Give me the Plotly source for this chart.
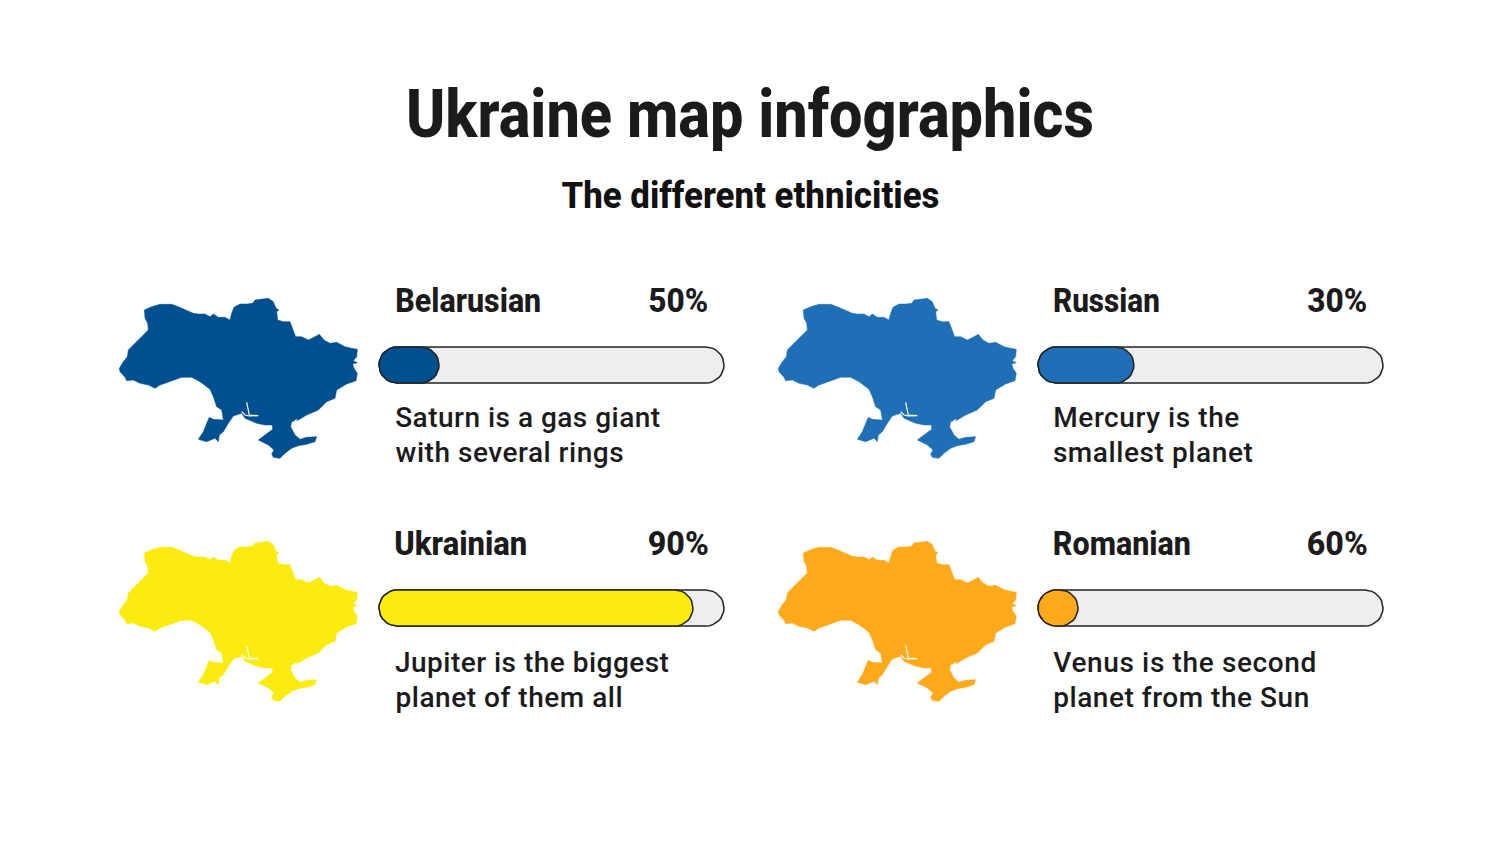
import json
import math
import plotly.graph_objects as go

groups = ['Belarusian', 'Russian', 'Ukrainian', 'Romanian']
labels = ['50%', '30%', '90%', '60%']
bar_fill = [17.4, 27.8, 91, 11.6]
colors = ['#004F91', '#1F6FB7', '#FBEB0F', '#FFA91B']
note_line1 = ['Saturn is a gas giant', 'Mercury is the', 'Jupiter is the biggest', 'Venus is the second']
note_line2 = ['with several rings', 'smallest planet', 'planet of them all', 'planet from the Sun']
title = 'Ukraine map infographics'
subtitle = 'The different ethnicities'

# outline, in the 840x570 box around the map
map_x = [133, 155, 180, 215, 235, 260, 280, 295, 315, 330, 340, 355, 375, 390, 395, 402, 420, 440, 458, 465,
         485, 505, 520, 528, 537, 530, 533, 550, 570, 580, 587, 605, 625, 645, 658, 672, 690, 710, 735, 755,
         772, 770, 760, 772, 758, 762, 772, 768, 740, 710, 705, 680, 655, 620, 595, 575, 572, 585, 600, 620,
         650, 645, 620, 595, 575, 555, 540, 520, 515, 522, 505, 475, 495, 518, 517, 495, 470, 450, 435, 425,
         400, 385, 370, 358, 355, 345, 320, 295, 310, 318, 328, 340, 370, 365, 350, 340, 330, 300, 275, 245,
         225, 200, 180, 165, 145, 120, 100, 80, 75, 60, 58, 70, 82, 85, 105, 125, 145, 143, 135, 133]
map_y = [90, 80, 73, 73, 80, 90, 100, 102, 102, 110, 102, 112, 112, 120, 100, 82, 72, 72, 70, 60,
         58, 55, 65, 85, 90, 95, 120, 125, 125, 155, 170, 170, 180, 170, 163, 180, 190, 187, 200, 205,
         208, 230, 242, 248, 252, 265, 280, 302, 312, 330, 355, 365, 390, 405, 420, 425, 440, 465, 478, 472,
         470, 485, 493, 497, 505, 520, 535, 532, 522, 510, 495, 480, 465, 448, 435, 435, 430, 422, 415, 400,
         408, 430, 455, 465, 485, 475, 485, 478, 455, 435, 412, 418, 420, 390, 380, 350, 328, 305, 292, 292,
         300, 308, 315, 325, 315, 310, 300, 302, 292, 275, 265, 245, 230, 210, 190, 170, 150, 130, 115, 90]
# white inlets near the Dnipro mouth and the Crimean neck
inlet_x = [440, 448, 475, 448, 435, 425, None, 578, 590]
inlet_y = [367, 405, 407, 408, 405, 395, None, 430, 418]

W, H = 1500, 844
# top left corner of each block, in page pixels
col_left = [0, 659, 0, 659]
row_top = [0, 0, 243, 243]
text_left = [395, 1053, 395, 1053]
note_top = [417, 417, 662, 662]

# no condensed face is installed, so the headings get squeezed to these widths (px)
head_width = {
    title: 688, subtitle: 378,
    'Belarusian': 146, 'Russian': 107, 'Ukrainian': 133, 'Romanian': 138,
    '50%': 60, '30%': 60, '90%': 61, '60%': 61,
}
# body text is tracked out a little in the picture
note_width = {
    'Saturn is a gas giant': 265, 'with several rings': 228,
    'Mercury is the': 186, 'smallest planet': 200,
    'Jupiter is the biggest': 274, 'planet of them all': 227,
    'Venus is the second': 263, 'planet from the Sun': 256,
}

HEAD_FONT = 'Roboto'
TEXT = '#1B1B1B'


def dom(a, b, total):
    return [a / total, b / total]


def pill(value):
    # rounded bar from 0 to value, caps are 18px at 3.45px per unit
    rx = 18 / 3.45
    ry = 0.375
    xs, ys = [], []
    for k in range(17):
        t = math.pi / 2 - math.pi * k / 16
        xs.append(value - rx + rx * math.cos(t))
        ys.append(ry * math.sin(t))
    for k in range(17):
        t = -math.pi / 2 - math.pi * k / 16
        xs.append(rx + rx * math.cos(t))
        ys.append(ry * math.sin(t))
    return xs + xs[:1], ys + ys[:1]


fig = go.Figure()
layout = {}
notes_ann = []

for i, name in enumerate(groups):
    dx, dy = col_left[i], row_top[i]
    left = text_left[i]
    mx = 'x%d' % (2 * i + 1)
    my = 'y%d' % (2 * i + 1)
    bx = 'x%d' % (2 * i + 2)
    by = 'y%d' % (2 * i + 2)

    fig.add_trace(go.Scatter(x=map_x, y=map_y, mode='lines', fill='toself', fillcolor=colors[i],
                             line=dict(color=colors[i], width=0.5), xaxis=mx, yaxis=my,
                             showlegend=False, hoverinfo='skip'))
    fig.add_trace(go.Scatter(x=inlet_x, y=inlet_y, mode='lines', line=dict(color='white', width=1.2),
                             xaxis=mx, yaxis=my, showlegend=False, hoverinfo='skip'))
    layout['xaxis%d' % (2 * i + 1)] = dict(domain=dom(100 + dx, 380 + dx, W), range=[0, 840], visible=False,
                                           anchor=my)
    layout['yaxis%d' % (2 * i + 1)] = dict(domain=dom(H - (470 + dy), H - (280 + dy), H), range=[570, 0],
                                           visible=False, anchor=mx)

    tx, ty = pill(100)
    fig.add_trace(go.Scatter(x=tx, y=ty, mode='lines', fill='toself', fillcolor='#EEEEEE', xaxis=bx, yaxis=by,
                             line=dict(color='#222222', width=1.5), showlegend=False, hoverinfo='skip'))
    fx, fy = pill(bar_fill[i])
    fig.add_trace(go.Scatter(x=fx, y=fy, mode='lines', fill='toself', fillcolor=colors[i], xaxis=bx, yaxis=by,
                             line=dict(color='#222222', width=1.5), showlegend=False, hoverinfo='skip', name=name))
    layout['xaxis%d' % (2 * i + 2)] = dict(domain=dom(372.1 + dx, 730.9 + dx, W), range=[-2, 102], visible=False,
                                           anchor=by)
    layout['yaxis%d' % (2 * i + 2)] = dict(domain=dom(H - (389 + dy), H - (341 + dy), H), range=[-0.5, 0.5],
                                           visible=False, anchor=bx)

    head = dict(family=HEAD_FONT, size=33, color=TEXT, weight=800)
    notes_ann.append(dict(text=name, x=(left + head_width[name] / 2) / W, y=1 - (300 + dy) / H, font=head))
    notes_ann.append(dict(text=labels[i], x=(708.5 + dx - head_width[labels[i]] / 2) / W, y=1 - (300 + dy) / H,
                          font=head))
    body = dict(family='Roboto', size=28, color=TEXT, weight=500)
    for line, top in ((note_line1[i], note_top[i]), (note_line2[i], note_top[i] + 35)):
        notes_ann.append(dict(text=line, x=(left + note_width[line] / 2) / W, y=1 - top / H, font=body))

notes_ann.append(dict(text=title, x=0.5, y=1 - 115 / H,
                      font=dict(family=HEAD_FONT, size=66, color=TEXT, weight=800)))
notes_ann.append(dict(text=subtitle, x=0.5, y=1 - 196 / H,
                      font=dict(family=HEAD_FONT, size=36, color='#111111', weight=800)))
for a in notes_ann:
    a.update(xref='paper', yref='paper', xanchor='center', yanchor='middle', showarrow=False)

fig.update_layout(
    width=W,
    height=H,
    margin=dict(l=0, r=0, t=0, b=0),
    plot_bgcolor='white',
    paper_bgcolor='white',
    showlegend=False,
    annotations=notes_ann,
    **layout
)

squeeze = """
document.body.style.margin = '0';
var heads = %s;
var lines = %s;
document.querySelectorAll('.annotation-text').forEach(function (el) {
    var t = el.textContent;
    if (heads[t]) {
        el.setAttribute('textLength', heads[t]);
        el.setAttribute('lengthAdjust', 'spacingAndGlyphs');
    } else if (lines[t]) {
        el.setAttribute('textLength', lines[t]);
        el.setAttribute('lengthAdjust', 'spacing');
    }
});
""" % (json.dumps(head_width), json.dumps(note_width))

fig.write_html("out.html", post_script=squeeze, config=dict(displayModeBar=False))
